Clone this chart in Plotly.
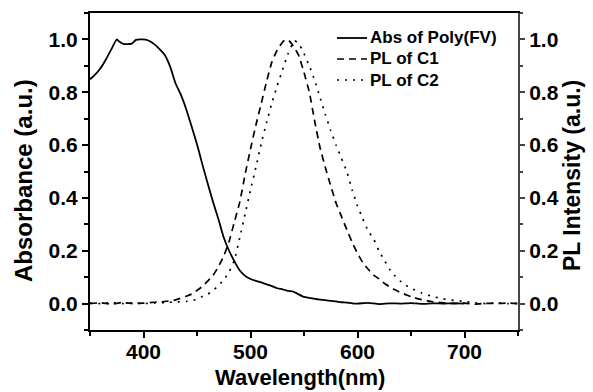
import plotly.graph_objects as go

# Absorbance of Poly(FV)
wl_abs = [350, 355, 360, 365, 370, 375, 378, 381, 385, 389, 393, 397, 402, 406, 410,
          415, 420, 425, 430, 435, 440, 445, 450, 455, 460, 465, 470, 475, 480, 485,
          490, 495, 500, 505, 510, 515, 520, 525, 530, 535, 540, 545, 550, 555, 560,
          565, 570, 575, 580, 585, 590, 595, 600, 610, 620, 630, 640, 650, 660, 670,
          680, 690, 700]
abs_poly = [0.849, 0.868, 0.892, 0.925, 0.963, 1.0, 0.99, 0.983, 0.982, 0.984, 0.998,
            1.0, 0.999, 0.993, 0.982, 0.963, 0.94, 0.896, 0.833, 0.79, 0.735, 0.67,
            0.603, 0.527, 0.455, 0.385, 0.32, 0.25, 0.2, 0.16, 0.125, 0.105, 0.093,
            0.086, 0.08, 0.073, 0.066, 0.058, 0.054, 0.048, 0.045, 0.035, 0.025, 0.022,
            0.018, 0.015, 0.013, 0.01, 0.008, 0.005, 0.004, 0.001, 0.0, 0.003, -0.002,
            0.001, 0.0, 0.002, -0.001, 0.001, 0.0, 0.002, 0.0]

# PL of C1
wl_c1 = [350, 360, 370, 380, 390, 400, 410, 420, 430, 440, 445, 450, 455, 460, 465,
         470, 475, 480, 485, 490, 495, 500, 505, 510, 515, 520, 525, 530, 533, 536,
         540, 545, 550, 555, 560, 565, 570, 575, 580, 585, 590, 595, 600, 605, 610,
         615, 620, 625, 630, 635, 640, 645, 650, 660, 670, 680, 690, 700, 710, 720,
         730, 740, 750]
pl_c1 = [0.0, 0.003, -0.002, 0.004, 0.0, 0.002, 0.005, 0.008, 0.014, 0.028, 0.036,
         0.05, 0.065, 0.085, 0.107, 0.14, 0.18, 0.235, 0.31, 0.385, 0.49, 0.585, 0.675,
         0.757, 0.84, 0.915, 0.96, 0.99, 1.0, 0.995, 0.975, 0.94, 0.875, 0.8, 0.69,
         0.59, 0.515, 0.445, 0.38, 0.33, 0.28, 0.232, 0.19, 0.155, 0.13, 0.108, 0.094,
         0.077, 0.064, 0.052, 0.042, 0.034, 0.026, 0.015, 0.007, 0.003, 0.0, 0.002,
         -0.002, 0.001, 0.0, 0.002, 0.0]

# PL of C2
wl_c2 = [350, 360, 370, 380, 390, 400, 410, 420, 430, 440, 445, 450, 455, 460, 465,
         470, 475, 480, 485, 490, 495, 500, 505, 510, 515, 520, 525, 530, 535, 541,
         545, 550, 555, 560, 565, 570, 575, 580, 585, 590, 595, 600, 605, 610, 615,
         620, 625, 630, 635, 640, 645, 650, 660, 670, 680, 690, 700, 710, 720, 730,
         740, 750]
pl_c2 = [0.002, 0.0, 0.004, 0.0, 0.003, 0.0, 0.002, 0.004, 0.006, 0.008, 0.01, 0.018,
         0.027, 0.035, 0.05, 0.068, 0.09, 0.12, 0.165, 0.25, 0.34, 0.43, 0.515, 0.605,
         0.685, 0.76, 0.825, 0.885, 0.945, 0.995, 0.985, 0.946, 0.9, 0.845, 0.78, 0.715,
         0.655, 0.6, 0.55, 0.5, 0.43, 0.37, 0.32, 0.275, 0.245, 0.2, 0.165, 0.13, 0.105,
         0.085, 0.07, 0.058, 0.04, 0.027, 0.018, 0.012, 0.008, 0.003, 0.0, 0.003, 0.0,
         0.001]

series_names = ["Abs of Poly(FV)", "PL of C1", "PL of C2"]
y_ticks = [0.0, 0.2, 0.4, 0.6, 0.8, 1.0]
x_ticks = [400, 500, 600, 700]

FONT = "Liberation Sans, Arial, sans-serif"
W, H = 593, 392
ML, MR, MT, MB = 90, 75, 13, 62
PW, PH = W - ML - MR, H - MT - MB


def px(x):
    """Horizontal pixel -> paper coordinate."""
    return (x - ML) / PW


def py(y):
    """Vertical pixel (from top) -> paper coordinate."""
    return (H - MB - y) / PH


styles = [
    dict(color="black", width=1.8, dash="solid"),
    dict(color="black", width=1.7, dash="7px,5px"),
    dict(color="black", width=1.7, dash="2px,6px"),
]

fig = go.Figure()
fig.add_trace(go.Scatter(x=wl_abs, y=abs_poly, name=series_names[0], mode="lines",
                         line=dict(**styles[0], shape="spline", smoothing=0.4)))
fig.add_trace(go.Scatter(x=wl_c1, y=pl_c1, name=series_names[1], mode="lines",
                         yaxis="y2", line=dict(**styles[1], shape="spline", smoothing=0.4)))
fig.add_trace(go.Scatter(x=wl_c2, y=pl_c2, name=series_names[2], mode="lines",
                         yaxis="y2", line=dict(**styles[2], shape="spline", smoothing=0.4)))

# legend: sample lines and labels in the upper right of the plot
for i, (name, st) in enumerate(zip(series_names, styles)):
    row_y = 38 + 21 * i
    fig.add_shape(type="line", xref="paper", yref="paper",
                  x0=px(337), x1=px(367), y0=py(row_y), y1=py(row_y),
                  line=dict(color=st["color"], width=st["width"], dash=st["dash"]))
    fig.add_annotation(text=name, xref="paper", yref="paper", x=px(368), y=py(row_y),
                       xanchor="left", yanchor="middle", showarrow=False,
                       font=dict(family=FONT, size=17, color="black", weight="bold"))

fig.add_annotation(text="Wavelength(nm)", xref="paper", yref="paper",
                   x=px(300), y=py(377), xanchor="center", yanchor="middle",
                   showarrow=False,
                   font=dict(family=FONT, size=22, color="black", weight="bold"))
fig.add_annotation(text="Absorbance (a.u.)", xref="paper", yref="paper",
                   x=px(23), y=py(181), xanchor="center", yanchor="middle",
                   textangle=-90, showarrow=False,
                   font=dict(family=FONT, size=24, color="black", weight="bold"))
fig.add_annotation(text="PL Intensity (a.u.)", xref="paper", yref="paper",
                   x=px(572), y=py(176), xanchor="center", yanchor="middle",
                   textangle=-90, showarrow=False,
                   font=dict(family=FONT, size=23, color="black", weight="bold"))

tick_font = dict(family=FONT, size=21, color="black", weight="bold")

fig.update_layout(
    width=W, height=H,
    margin=dict(l=ML, r=MR, t=MT, b=MB),
    paper_bgcolor="white", plot_bgcolor="white",
    showlegend=False,
    xaxis=dict(range=[350, 750], tickvals=x_ticks, ticks="outside", ticklen=6,
               tickwidth=2, tickcolor="black", showline=True, linewidth=2,
               linecolor="black", mirror=True, showgrid=False, zeroline=False,
               tickfont=tick_font, ticklabelstandoff=-4,
               minor=dict(ticks="outside", ticklen=4, tickwidth=2, dtick=50,
                          tick0=350, tickcolor="black", showgrid=False)),
    yaxis=dict(range=[-0.1, 1.1], tickvals=y_ticks, tickformat=".1f", ticks="outside",
               ticklen=6, tickwidth=2, tickcolor="black", showline=True, linewidth=2,
               linecolor="black", showgrid=False, zeroline=False, tickfont=tick_font,
               minor=dict(ticks="outside", ticklen=4, tickwidth=2, dtick=0.1,
                          tick0=-0.1, tickcolor="black", showgrid=False)),
    yaxis2=dict(range=[-0.1, 1.1], overlaying="y", side="right", tickvals=y_ticks,
                tickformat=".1f", ticks="outside", ticklen=5, tickwidth=2,
                tickcolor="#444", showline=True, linewidth=2, linecolor="#444",
                showgrid=False, zeroline=False, tickfont=tick_font,
                minor=dict(ticks="outside", ticklen=3, tickwidth=2, dtick=0.1,
                           tick0=-0.1, tickcolor="#444", showgrid=False)),
)

fig.write_html("out.html")
